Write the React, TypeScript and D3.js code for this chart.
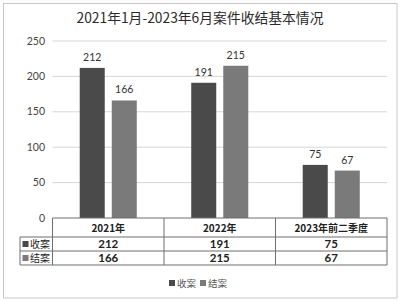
import React from "react";
import * as d3 from "d3";

const categories = ["2021年", "2022年", "2023年前二季度"];
const seriesNames = ["收案", "结案"];
const received = [212, 191, 75];
const closed = [166, 215, 67];
const yTicks = [0, 50, 100, 150, 200, 250];
const title = "2021年1月-2023年6月案件收结基本情况";

const colors = ["#4a4a4a", "#7a7a7a"];
const FONT = "'Noto Sans CJK SC', 'Noto Sans', sans-serif";
const NUM = "Lato, 'Noto Sans', sans-serif";

export default function App() {
  const W = 400, H = 301;
  const left = 52.5, right = 387, top = 41, bottom = 218;
  const y = d3.scaleLinear().domain([0, 250]).range([bottom, top]);
  const x0 = d3.scaleBand<string>().domain(categories).range([left, right]).paddingInner(0).paddingOuter(0);
  const x1 = d3.scaleBand<string>().domain(seriesNames).range([0, x0.bandwidth()]).paddingInner(0.219).paddingOuter(0.85);
  const seriesData = [received, closed];

  const rowY = [218, 237, 251, 265];
  const labelLeft = 20;
  const colEdges = [left, ...categories.map((c) => (x0(c) as number) + x0.bandwidth())];

  return (
    <svg width={W} height={H} style={{ position: "absolute", left: 0, top: 0 }}>
      <rect x={0} y={0} width={W} height={H} fill="#fff" />
      <rect x={3.5} y={3.5} width={393.5} height={294.5} fill="none" stroke="#c8c8c8" strokeWidth={1} />
      <text x={200} y={23} textAnchor="middle" fontFamily={FONT} fontSize={13.8} fill="#2a2a2a">{title}</text>

      {yTicks.map((t) => (
        <g key={t}>
          {t > 0 && <line x1={left} x2={right} y1={y(t)} y2={y(t)} stroke="#d6d6d6" strokeWidth={1} />}
          <text x={45} y={y(t) + 3.5} textAnchor="end" fontFamily={NUM} fontSize={10.5} fill="#444">{t}</text>
        </g>
      ))}

      {categories.map((c, i) => (
        <g key={c}>
          {seriesNames.map((s, j) => {
            const v = seriesData[j][i];
            const bx = (x0(c) as number) + (x1(s) as number);
            return (
              <g key={s}>
                <rect x={bx} y={y(v)} width={x1.bandwidth()} height={bottom - y(v)} fill={colors[j]} />
                <text x={bx + x1.bandwidth() / 2} y={y(v) - 7} textAnchor="middle" fontFamily={NUM} fontSize={10.5} fill="#333">{v}</text>
              </g>
            );
          })}
        </g>
      ))}

      {/* table */}
      <g stroke="#6e6e6e" strokeWidth={1} fill="none">
        <line x1={left} x2={right} y1={rowY[0]} y2={rowY[0]} />
        {rowY.slice(1).map((ry) => (
          <line key={ry} x1={labelLeft} x2={right} y1={ry} y2={ry} />
        ))}
        <line x1={labelLeft} x2={labelLeft} y1={rowY[1]} y2={rowY[3]} />
        {colEdges.map((cx) => (
          <line key={cx} x1={cx} x2={cx} y1={rowY[0]} y2={rowY[3]} />
        ))}
      </g>
      {categories.map((c, i) => {
        const cx = (x0(c) as number) + x0.bandwidth() / 2;
        return (
          <g key={c} fill="#222" textAnchor="middle">
            <text x={cx} y={232} fontFamily={FONT} fontSize={10} fontWeight="bold">{c}</text>
            <text x={cx} y={248} fontFamily={NUM} fontSize={11.5} fontWeight="bold">{received[i]}</text>
            <text x={cx} y={262} fontFamily={NUM} fontSize={11.5} fontWeight="bold">{closed[i]}</text>
          </g>
        );
      })}
      {seriesNames.map((s, j) => (
        <g key={s}>
          <rect x={22.5} y={rowY[j + 1] + 4} width={6} height={6} fill={colors[j]} />
          <text x={30} y={rowY[j + 1] + 11} fontFamily={FONT} fontSize={10} fill="#222">{s}</text>
        </g>
      ))}

      {/* legend */}
      {seriesNames.map((s, j) => {
        const lx = 169 + j * 31;
        return (
          <g key={s}>
            <rect x={lx} y={280} width={6} height={6} fill={colors[j]} />
            <text x={lx + 8} y={286.5} fontFamily={FONT} fontSize={9.5} fill="#555">{s}</text>
          </g>
        );
      })}
    </svg>
  );
}
